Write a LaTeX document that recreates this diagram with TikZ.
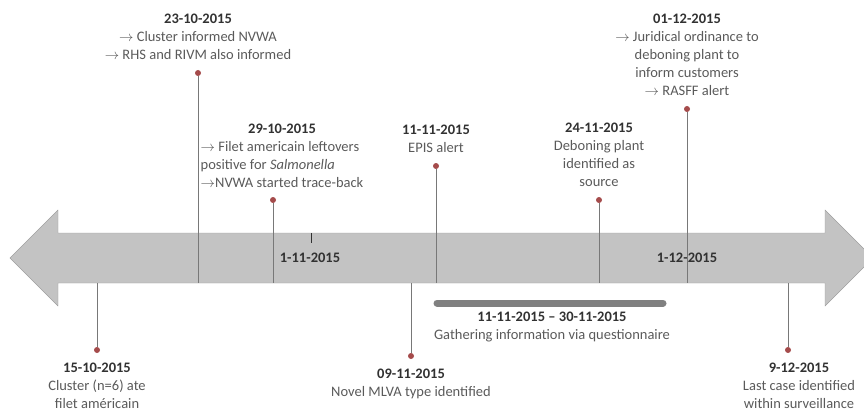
\documentclass[tikz,border=0pt]{standalone}
\usepackage{fontspec}
\setmainfont{Carlito}
\usetikzlibrary{positioning}

\definecolor{dotred}{RGB}{165,75,75}
\definecolor{datecol}{RGB}{50,50,50}
\definecolor{textcol}{RGB}{90,90,90}
\definecolor{stemcol}{RGB}{120,120,120}

\tikzset{
  event/.style={circle, fill=dotred, inner sep=0pt, minimum size=6pt},
  stem/.style={draw=stemcol, line width=1pt},
  info/.style={align=center, inner sep=0pt, text=textcol, font=\fontsize{14.5}{18}\selectfont},
}
\newcommand{\dte}[1]{\textbf{\textcolor{datecol}{#1}}}
\newcommand{\ra}{$\rightarrow$}

\begin{document}
\begin{tikzpicture}[x=1pt, y=-1pt, node distance=9.5pt]

    \clip (0,0) rectangle (864,409);

    % Arrow
    \draw[draw=gray!75, fill=gray!47] (10,258) -- (58,210) -- (58,233) -- (825,233) -- (825,210)
        -- (873,258) -- (825,306) -- (825,283) -- (58,283) -- (58,306) -- cycle;
    \draw[datecol, line width=1pt] (311,233) -- (311,243);
    \draw[datecol, line width=1pt] (687,233) -- (687,243);
    \node[info] (nov) at (310,258) {\dte{1-11-2015}};
    \node[info] (dec) at (687,258) {\dte{1-12-2015}};

    % Nodes
    \node[event] (d15) at (97,350) {};
    \node[event] (d23) at (198,73) {};
    \node[event] (d29) at (273,200) {};
    \node[event] (d0911) at (411,356) {};
    \node[event] (d1111) at (436,166) {};
    \node[event] (d24) at (599,200) {};
    \node[event] (d0112) at (687,109) {};
    \node[event] (d0912) at (788,350) {};

    \coordinate (b15) at (97,283);
    \coordinate (b23) at (198,283);
    \coordinate (b29) at (273,283);
    \coordinate (b0911) at (411,283);
    \coordinate (b1111) at (436,283);
    \coordinate (b24) at (599,283);
    \coordinate (b0112) at (687,283);
    \coordinate (b0912) at (788,283);

    % Stems
    \draw[stem] (b15) -- (d15);
    \draw[stem] (d23) -- (b23);
    \draw[stem] (d29) -- (b29);
    \draw[stem] (b0911) -- (d0911);
    \draw[stem] (d1111) -- (b1111);
    \draw[stem] (d24) -- (b24);
    \draw[stem] (d0112) -- (b0112);
    \draw[stem] (b0912) -- (d0912);

    % Questionnaire period
    \coordinate (q1) at (437,303);
    \coordinate (q2) at (663,303);
    \draw[gray, line width=7pt, line cap=round] (q1) -- (q2);

    % Labels
    \node[info, above=of d23] (t23) {\dte{23-10-2015}\\\ra{} Cluster informed NVWA\\\ra{} RHS and RIVM also informed};
    \node[info, above=4pt of d29, xshift=9pt] (t29) {\begin{tabular}{@{}l@{}}\multicolumn{1}{@{}c@{}}{\dte{29-10-2015}}\\
        \ra{} Filet americain leftovers\\ positive for \textit{Salmonella}\\\ra{}NVWA started trace-back\end{tabular}};
    \node[info, above=of d1111] (t1111) {\dte{11-11-2015}\\EPIS alert};
    \node[info, above=of d24] (t24) {\dte{24-11-2015}\\Deboning plant\\identified as\\source};
    \node[info, above=of d0112] (t0112) {\dte{01-12-2015}\\\ra{} Juridical ordinance to\\deboning plant to\\inform customers\\\ra{} RASFF alert};
    \node[info, below=of d15] (t15) {\dte{15-10-2015}\\Cluster (n=6) ate\\filet américain};
    \node[info, below=of d0911] (t0911) {\dte{09-11-2015}\\Novel MLVA type identified};
    \node[info, below=of d0912, xshift=11pt] (t0912) {\dte{9-12-2015}\\Last case identified\\within surveillance};
    \node[info, anchor=north] (tq) at (552,312) {\dte{11-11-2015 -- 30-11-2015}\\Gathering information via questionnaire};

\end{tikzpicture}
\end{document}
